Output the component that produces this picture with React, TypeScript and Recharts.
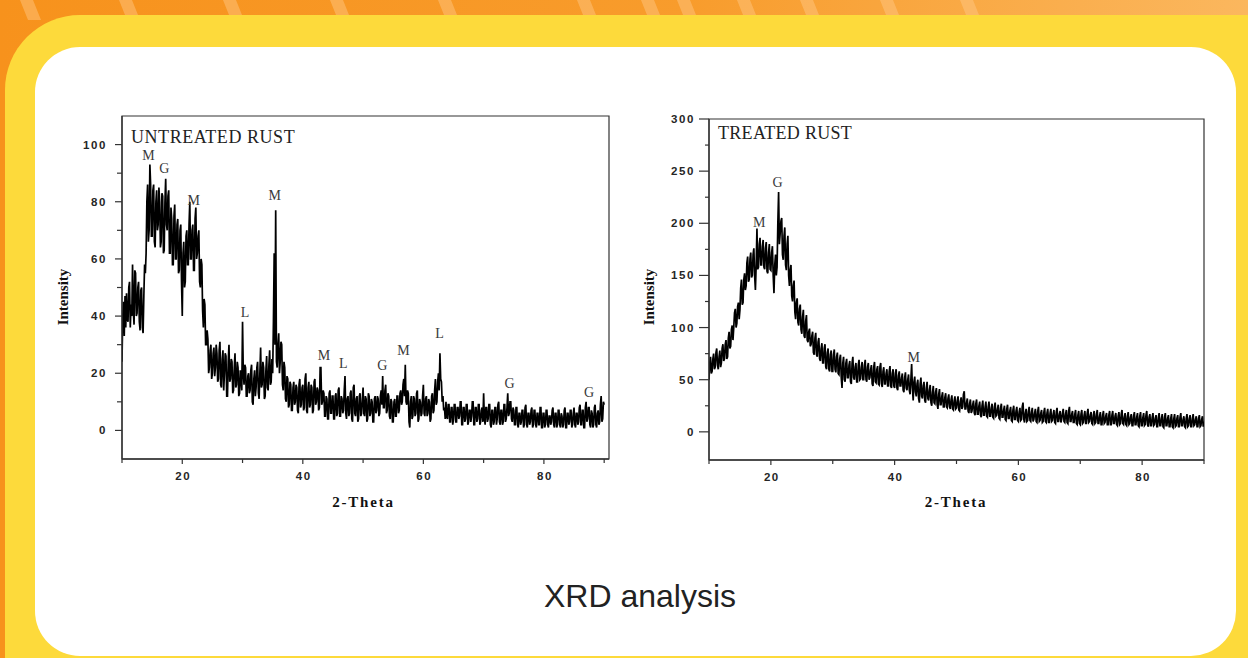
import React from 'react';
import { ComposedChart, Line, Scatter, XAxis, YAxis, ReferenceArea } from 'recharts';

// ---------- data ----------
const thetaStart = 10;
const thetaStep = 0.125;

// UNTREATED RUST intensities, 2-theta = 10 .. 90 in 0.125 steps (one row = 2.5 deg)
const untreatedIntensity = [
  24, 40, 45, 33, 47, 36, 48, 39, 38, 50, 52, 36, 44, 40, 58, 42, 37, 56, 55, 40,
  41, 50, 52, 38, 35, 49, 50, 36, 34, 47, 58, 55, 62, 80, 86, 66, 70, 93, 86, 68,
  68, 84, 86, 66, 64, 80, 84, 70, 72, 85, 80, 64, 66, 83, 82, 62, 63, 80, 88, 72,
  70, 82, 84, 62, 62, 78, 74, 58, 58, 75, 79, 60, 60, 72, 74, 55, 56, 70, 72, 52,
  40, 62, 66, 50, 52, 68, 70, 58, 58, 72, 80, 60, 60, 70, 72, 56, 56, 74, 78, 60,
  62, 68, 70, 52, 50, 60, 58, 42, 36, 46, 44, 30, 30, 35, 32, 20, 22, 28, 30, 18,
  20, 27, 29, 19, 22, 30, 27, 17, 18, 28, 31, 16, 15, 25, 28, 14, 20, 27, 26, 12,
  12, 24, 30, 17, 18, 25, 24, 13, 14, 22, 27, 15, 16, 24, 22, 12, 13, 21, 18, 14,
  38, 20, 16, 23, 22, 12, 12, 19, 20, 13, 14, 21, 23, 10, 9, 18, 21, 12, 15, 22,
  24, 13, 11, 20, 29, 15, 16, 24, 22, 11, 12, 21, 26, 15, 14, 23, 28, 16, 17, 25,
  20, 38, 62, 30, 77, 24, 22, 30, 34, 20, 24, 31, 30, 16, 14, 24, 22, 11, 10, 19,
  18, 8, 9, 17, 16, 7, 7, 15, 17, 9, 10, 16, 15, 7, 6, 16, 18, 8, 9, 15,
  16, 7, 8, 18, 20, 7, 6, 15, 17, 8, 9, 16, 15, 6, 7, 17, 18, 9, 10, 15,
  14, 7, 8, 22, 22, 9, 10, 14, 13, 5, 5, 12, 11, 4, 4, 13, 14, 6, 6, 12,
  12, 4, 4, 12, 13, 5, 6, 14, 15, 5, 5, 12, 11, 6, 7, 14, 19, 6, 4, 11,
  12, 5, 6, 13, 14, 4, 3, 15, 16, 6, 5, 11, 12, 3, 4, 12, 13, 5, 6, 11,
  15, 6, 5, 12, 11, 3, 4, 13, 12, 5, 6, 11, 10, 3, 3, 11, 12, 6, 7, 12,
  11, 5, 6, 12, 14, 9, 19, 8, 8, 14, 16, 6, 7, 13, 12, 5, 4, 11, 10, 3,
  3, 10, 11, 5, 5, 12, 12, 6, 7, 13, 14, 9, 10, 16, 18, 12, 23, 10, 9, 14,
  13, 3, 1, 10, 12, 4, 5, 12, 11, 5, 6, 13, 14, 3, 4, 11, 10, 5, 6, 12,
  16, 6, 5, 11, 12, 5, 6, 11, 10, 3, 4, 12, 13, 6, 7, 14, 18, 9, 10, 17,
  20, 14, 27, 18, 17, 10, 12, 7, 8, 4, 10, 5, 4, 9, 9, 3, 3, 8, 8, 2,
  4, 9, 9, 3, 3, 8, 8, 4, 5, 10, 10, 2, 2, 8, 8, 3, 4, 9, 9, 2,
  3, 7, 7, 3, 5, 10, 10, 2, 2, 8, 8, 3, 4, 9, 9, 2, 3, 7, 8, 3,
  13, 4, 2, 8, 8, 3, 4, 9, 9, 2, 1, 7, 7, 2, 3, 8, 8, 2, 4, 9,
  10, 3, 2, 7, 7, 2, 3, 9, 9, 3, 4, 8, 13, 5, 6, 10, 10, 4, 3, 8,
  7, 2, 2, 8, 8, 2, 1, 6, 6, 2, 3, 7, 7, 1, 2, 8, 9, 2, 1, 6,
  6, 2, 3, 7, 8, 1, 2, 7, 7, 2, 1, 6, 6, 2, 2, 8, 8, 1, 1, 6,
  6, 1, 2, 7, 7, 2, 1, 5, 5, 2, 3, 7, 8, 2, 1, 6, 6, 1, 2, 7,
  7, 2, 1, 6, 5, 1, 2, 7, 8, 1, 1, 6, 6, 2, 3, 7, 7, 1, 2, 6,
  8, 2, 1, 6, 6, 2, 3, 8, 9, 2, 2, 7, 7, 1, 1, 8, 10, 3, 4, 8,
  8, 2, 1, 7, 6, 1, 2, 8, 9, 2, 1, 6, 7, 2, 3, 9, 12, 3, 4, 10,
  9,
];

// TREATED RUST intensities, 2-theta = 10 .. 90 in 0.125 steps (one row = 2.5 deg)
const treatedIntensity = [
  50, 66, 72, 56, 58, 70, 75, 60, 62, 76, 80, 64, 60, 72, 78, 62, 66, 80, 84, 68,
  70, 84, 88, 70, 72, 90, 96, 80, 82, 98, 102, 88, 100, 114, 118, 100, 104, 120, 124, 108,
  117, 138, 146, 122, 124, 146, 152, 136, 140, 162, 168, 144, 146, 166, 172, 148, 150, 170, 176, 150,
  136, 160, 195, 156, 158, 180, 186, 160, 160, 178, 184, 158, 156, 176, 182, 154, 152, 172, 180, 156,
  155, 172, 178, 150, 133, 160, 170, 150, 158, 200, 230, 180, 190, 202, 205, 170, 165, 188, 196, 160,
  155, 180, 188, 150, 140, 155, 160, 130, 125, 140, 145, 115, 108, 124, 128, 105, 102, 118, 122, 98,
  94, 110, 117, 92, 90, 106, 112, 88, 86, 96, 99, 82, 84, 92, 96, 76, 74, 90, 95, 74,
  72, 86, 90, 70, 68, 80, 85, 66, 66, 80, 84, 62, 60, 76, 80, 60, 58, 74, 78, 58,
  58, 74, 79, 60, 57, 72, 76, 56, 55, 70, 74, 52, 42, 66, 72, 50, 48, 66, 70, 52,
  52, 64, 68, 48, 46, 66, 72, 52, 50, 62, 66, 48, 48, 64, 69, 50, 51, 62, 67, 50,
  50, 64, 69, 50, 48, 62, 66, 50, 52, 60, 64, 46, 44, 62, 67, 48, 47, 60, 63, 46,
  45, 62, 66, 46, 43, 58, 62, 46, 46, 56, 60, 44, 44, 58, 63, 44, 42, 56, 60, 44,
  42, 56, 60, 42, 40, 54, 58, 44, 44, 52, 56, 40, 38, 52, 57, 42, 40, 50, 55, 40,
  36, 50, 65, 42, 30, 48, 53, 38, 34, 46, 50, 32, 28, 46, 52, 34, 32, 44, 48, 30,
  28, 42, 48, 32, 30, 40, 45, 28, 25, 38, 44, 28, 27, 38, 42, 26, 22, 36, 41, 26,
  26, 34, 38, 24, 24, 33, 37, 24, 23, 32, 36, 24, 22, 31, 35, 22, 21, 30, 34, 22,
  23, 30, 34, 21, 20, 29, 33, 22, 24, 36, 39, 22, 22, 28, 32, 20, 18, 27, 31, 18,
  20, 26, 30, 18, 16, 27, 31, 17, 17, 25, 29, 16, 14, 25, 30, 16, 16, 24, 29, 15,
  14, 24, 29, 15, 15, 23, 27, 14, 13, 24, 28, 15, 16, 22, 26, 13, 12, 23, 27, 14,
  14, 21, 25, 12, 11, 22, 26, 13, 13, 20, 24, 11, 10, 21, 25, 12, 12, 20, 24, 11,
  10, 19, 23, 11, 12, 24, 28, 12, 9, 18, 22, 10, 11, 20, 24, 11, 10, 19, 23, 10,
  12, 18, 22, 10, 9, 20, 24, 10, 11, 18, 21, 9, 10, 19, 23, 10, 9, 18, 22, 9,
  9, 18, 22, 10, 11, 17, 21, 9, 8, 19, 23, 10, 10, 17, 20, 9, 12, 18, 22, 10,
  9, 17, 21, 9, 8, 20, 24, 10, 10, 17, 20, 9, 9, 17, 21, 8, 7, 16, 20, 8,
  7, 17, 21, 8, 9, 16, 20, 8, 8, 18, 22, 9, 10, 16, 19, 8, 7, 16, 20, 8,
  9, 17, 21, 8, 8, 15, 19, 7, 7, 16, 20, 8, 9, 15, 18, 7, 7, 16, 20, 7,
  7, 16, 20, 8, 8, 15, 18, 7, 6, 15, 19, 7, 8, 17, 21, 8, 7, 14, 18, 7,
  6, 15, 19, 7, 8, 14, 17, 6, 6, 15, 19, 7, 7, 14, 18, 6, 5, 15, 19, 6,
  6, 14, 18, 6, 7, 16, 20, 7, 5, 14, 17, 6, 6, 14, 18, 6, 7, 13, 16, 5,
  5, 14, 18, 6, 6, 13, 17, 5, 4, 14, 18, 6, 6, 13, 16, 5, 5, 13, 17, 5,
  4, 13, 17, 5, 6, 13, 16, 5, 5, 14, 18, 6, 6, 12, 15, 5, 4, 13, 17, 5,
  6, 13, 16, 5, 5, 13, 17, 6, 7, 12, 15, 5, 5, 13, 16, 5, 6, 12, 15, 5,
  10,
];

// phase labels (M = magnetite, G = goethite, L = lepidocrocite)
const untreatedPeaks = [
  { theta: 14.4, intensity: 96.1, phase: 'M' },
  { theta: 17.0, intensity: 91.8, phase: 'G' },
  { theta: 21.9, intensity: 80.6, phase: 'M' },
  { theta: 35.35, intensity: 82.4, phase: 'M' },
  { theta: 30.4, intensity: 41.4, phase: 'L' },
  { theta: 43.5, intensity: 26.4, phase: 'M' },
  { theta: 46.7, intensity: 23.5, phase: 'L' },
  { theta: 53.2, intensity: 22.7, phase: 'G' },
  { theta: 56.7, intensity: 28.1, phase: 'M' },
  { theta: 62.7, intensity: 33.9, phase: 'L' },
  { theta: 74.3, intensity: 16.4, phase: 'G' },
  { theta: 87.5, intensity: 13.5, phase: 'G' },
];
const treatedPeaks = [
  { theta: 18.1, intensity: 201.3, phase: 'M' },
  { theta: 21.1, intensity: 239.6, phase: 'G' },
  { theta: 43.1, intensity: 71.2, phase: 'M' },
];

const xTicks = [10, 20, 30, 40, 50, 60, 70, 80, 90];
const xTickLabels = [20, 40, 60, 80];
const untreatedYTicks = [0, 10, 20, 30, 40, 50, 60, 70, 80, 90, 100];
const untreatedYTickLabels = [0, 20, 40, 60, 80, 100];
const treatedYTicks = [0, 25, 50, 75, 100, 125, 150, 175, 200, 225, 250, 275, 300];
const treatedYTickLabels = [0, 50, 100, 150, 200, 250, 300];

const untreatedData = untreatedIntensity.map((v, i) => ({ theta: thetaStart + i * thetaStep, intensity: v }));
const treatedData = treatedIntensity.map((v, i) => ({ theta: thetaStart + i * thetaStep, intensity: v }));

// ---------- styles ----------
const AXIS = '#333';
const TICK_TEXT = '#262626';
const SERIF = '"Liberation Serif", "Times New Roman", serif';
const SANS = '"Liberation Sans", Arial, sans-serif';

const yTick = (labels: number[], majorLen: number, minorLen: number, gap: number) => (p: any) => {
  const v = p.payload.value;
  const major = labels.includes(v);
  const len = major ? majorLen : minorLen;
  return (
    <g>
      <line x1={p.x - len} x2={p.x} y1={p.y} y2={p.y} stroke={AXIS} strokeWidth={1.2} />
      {major && (
        <text x={p.x - len - gap} y={p.y + 4} textAnchor="end" fontSize={11.5} fontFamily={SANS}
          fontWeight={600} letterSpacing={1.6} fill={TICK_TEXT}>{v}</text>
      )}
    </g>
  );
};

const xTick = (labels: number[], majorLen: number, minorLen: number) => (p: any) => {
  const v = p.payload.value;
  const major = labels.includes(v);
  const len = major ? majorLen : minorLen;
  return (
    <g>
      <line x1={p.x} x2={p.x} y1={p.y} y2={p.y + len} stroke={AXIS} strokeWidth={1.2} />
      {major && (
        <text x={p.x + 1} y={p.y + 21} textAnchor="middle" fontSize={11.5} fontFamily={SANS}
          fontWeight={600} letterSpacing={1.6} fill={TICK_TEXT}>{v}</text>
      )}
    </g>
  );
};

const peakShape = (p: any) => (
  <text x={p.cx} y={p.cy + 4.7} textAnchor="middle" fontSize={14} fontFamily={SERIF} fill="#3a3a3a">
    {p.payload.phase}
  </text>
);

function XrdPanel(props: {
  data: any[]; peaks: any[]; yDomain: [number, number]; xMax: number; yTicks: number[]; yLabels: number[];
  width: number; height: number; margin: any; majorY: number; minorY: number; gapY: number;
}) {
  const { data, peaks, yDomain, xMax, yTicks, yLabels, width, height, margin, majorY, minorY, gapY } = props;
  return (
    <ComposedChart width={width} height={height} margin={margin}>
      <XAxis dataKey="theta" type="number" domain={[10, xMax]} ticks={xTicks} interval={0} allowDataOverflow
        height={30} tickSize={0} tickMargin={0} tickLine={false} tick={xTick(xTickLabels, 5, 4)}
        axisLine={{ stroke: AXIS, strokeWidth: 1.3 }} />
      <YAxis dataKey="intensity" type="number" domain={yDomain} ticks={yTicks} interval={0} allowDataOverflow
        width={40} tickSize={0} tickMargin={0} tickLine={false} tick={yTick(yLabels, majorY, minorY, gapY)}
        axisLine={{ stroke: AXIS, strokeWidth: 1.3 }} />
      <ReferenceArea x1={10} x2={xMax} y1={yDomain[0]} y2={yDomain[1]} fill="none" fillOpacity={0}
        stroke={AXIS} strokeWidth={1.2} ifOverflow="visible" />
      <Line data={data} dataKey="intensity" type="linear" stroke="#000" strokeWidth={1.7} dot={false}
        isAnimationActive={false} />
      <Scatter data={peaks} dataKey="intensity" shape={peakShape} isAnimationActive={false} />
    </ComposedChart>
  );
}

const stripeStarts = [20, 119, 223, 330, 438, 577, 641, 677, 737, 800, 880, 960];

export default function App() {
  return (
    <div style={{ position: 'absolute', left: 0, top: 0, width: 1248, height: 658, overflow: 'hidden' }}>
      <svg width={1248} height={658} style={{ position: 'absolute', left: 0, top: 0 }}>
        <defs>
          <linearGradient id="og" x1="0" x2="1" y1="0" y2="0">
            <stop offset="0" stopColor="#F7921C" />
            <stop offset="0.55" stopColor="#F89C2C" />
            <stop offset="1" stopColor="#FBB75E" />
          </linearGradient>
        </defs>
        <rect width={1248} height={658} fill="url(#og)" />
        {stripeStarts.map((s) => (
          <polygon key={s} points={`${s},0 ${s + 13},0 ${s + 21},20 ${s + 8},20`} fill="#FFC98A" opacity={0.45} />
        ))}
        <rect x={5} y={15} width={1330} height={720} rx={75} fill="#FDDA3B" />
        <rect x={35} y={47} width={1201} height={609} rx={45} fill="#FFFFFF" />
      </svg>

      <div style={{ position: 'absolute', left: 0, top: 0 }}>
        <XrdPanel data={untreatedData} peaks={untreatedPeaks} yDomain={[-10, 110]} xMax={90.8}
          yTicks={untreatedYTicks} yLabels={untreatedYTickLabels} width={640} height={520}
          margin={{ top: 116, right: 31, bottom: 31, left: 82 }} majorY={7} minorY={5} gapY={8} />
      </div>
      <div style={{ position: 'absolute', left: 640, top: 0 }}>
        <XrdPanel data={treatedData} peaks={treatedPeaks} yDomain={[-27, 300]} xMax={90}
          yTicks={treatedYTicks} yLabels={treatedYTickLabels} width={608} height={520}
          margin={{ top: 119, right: 44, bottom: 30, left: 29 }} majorY={10} minorY={4} gapY={4} />
      </div>

      <svg width={1248} height={658} style={{ position: 'absolute', left: 0, top: 0, pointerEvents: 'none' }}>
        <text x={131} y={142.5} fontSize={18} letterSpacing={0.55} fontFamily={SERIF} fill="#222">UNTREATED RUST</text>
        <text x={718} y={138.5} fontSize={18} letterSpacing={0.3} fontFamily={SERIF} fill="#222">TREATED RUST</text>
        <text transform="translate(68,297) rotate(-90)" textAnchor="middle" fontSize={15} fontWeight="bold"
          fontFamily={SERIF} fill="#111">Intensity</text>
        <text transform="translate(654,297) rotate(-90)" textAnchor="middle" fontSize={15} fontWeight="bold"
          fontFamily={SERIF} fill="#111">Intensity</text>
        <text x={363.5} y={506.5} textAnchor="middle" fontSize={15} fontWeight="bold" letterSpacing={1.8}
          fontFamily={SERIF} fill="#111">2-Theta</text>
        <text x={956} y={506.5} textAnchor="middle" fontSize={15} fontWeight="bold" letterSpacing={1.8}
          fontFamily={SERIF} fill="#111">2-Theta</text>
        <text x={640} y={607} textAnchor="middle" fontSize={32} fontFamily={SANS} fill="#222">XRD analysis</text>
      </svg>
    </div>
  );
}
